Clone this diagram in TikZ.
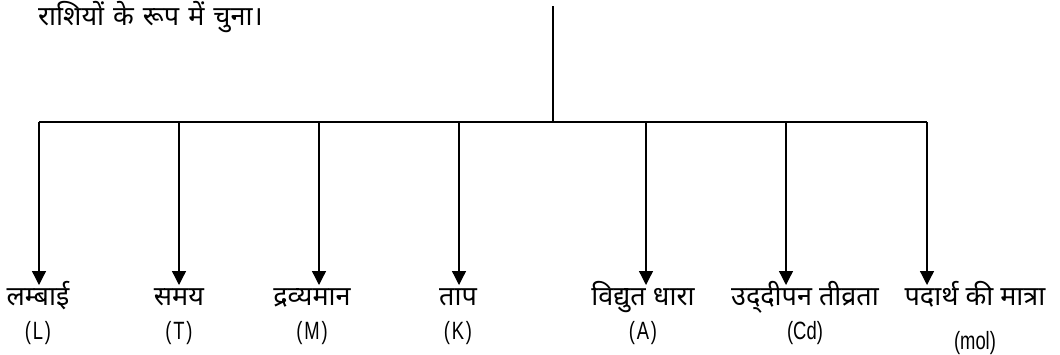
\documentclass[tikz,border=0pt]{standalone}
\usepackage{fontspec}
\setmainfont{Liberation Sans}
\newfontfamily\hindi[Script=Devanagari]{Noto Sans}
\usetikzlibrary{arrows.meta}
% tall, slightly narrow Latin unit symbols
\newcommand\unitsym[1]{\scalebox{0.92}[1.25]{#1}}
\begin{document}
\begin{tikzpicture}[x=1pt,y=-1pt,
  wire/.style={line width=1.3pt},
  branch/.style={wire,-{Triangle[width=14pt,length=14pt]}},
  hlabel/.style={anchor=base,inner sep=0pt,font=\hindi\fontsize{27}{30}\selectfont},
  llabel/.style={anchor=base,inner sep=0pt,font=\fontsize{20}{24}\selectfont}]
\useasboundingbox (0,0) rectangle (1060,354);
% heading text
\node[hlabel,anchor=base west] (head) at (38,25)
  {\spaceskip=9pt राशियों के रूप में चुना।};
% trunk and bar
\coordinate (top) at (553,6);
\coordinate (join) at (553,122);
\coordinate (barL) at (39,122);
\coordinate (barR) at (927,122);
\draw[wire] (top) -- (join);
\draw[wire] (barL) -- (barR);
% branches: name / arrow x / label x / quantity / unit / extra drop
\foreach \n/\ax/\lx/\qname/\sym/\dy in {
  a/39/38/{लम्बाई}/{(\kern2pt L\kern2pt)}/0,
  b/179/179/{समय}/{(\kern2pt T\kern2pt)}/0,
  c/319/312/{द्रव्यमान}/{(\kern2pt M\kern2pt)}/0,
  d/459/458/{ताप}/{(\kern2pt K\kern2pt)}/0,
  e/646/643/{विद्युत धारा}/{(\kern2pt A\kern2pt)}/0,
  f/786/805/{उद्^^^^200cदीपन तीव्रता}/{(Cd)}/0,
  g/927/975/{पदार्थ की मात्रा}/{(mol)}/10}{
  \coordinate (s\n) at (\ax,122);
  \coordinate (t\n) at (\ax,285);
  \draw[branch] (s\n) -- (t\n);
  \node[hlabel] (h\n) at (\lx,305) {\qname};
  \node[llabel] (l\n) at (\lx,339+\dy) {\unitsym{\sym}};
}
\end{tikzpicture}
\end{document}
